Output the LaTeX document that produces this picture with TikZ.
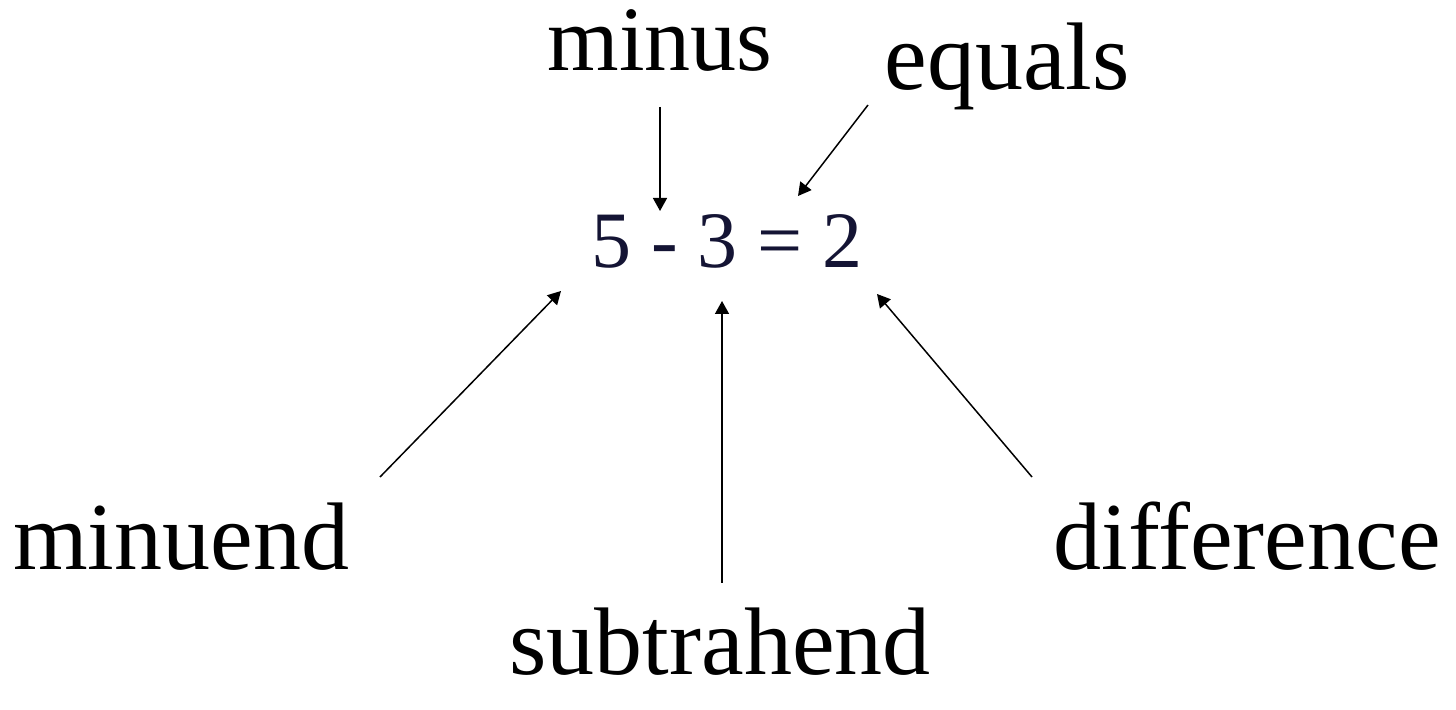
\documentclass[tikz,border=0pt]{standalone}
\usepackage{fontspec}
\setmainfont{Liberation Serif}
\usetikzlibrary{arrows.meta}
\definecolor{eqnavy}{RGB}{20,20,52}
\begin{document}
\begin{tikzpicture}[x=0.5pt,y=-0.5pt,
  lbl/.style={inner sep=0pt,font=\fontsize{48}{54}\selectfont,anchor=base},
  eqn/.style={inner sep=0pt,font=\fontsize{40}{46}\selectfont,text=eqnavy,anchor=base},
  arr/.style={line width=0.75pt,-{Triangle[length=6.5pt,width=7pt]}}]
\useasboundingbox (0,0) rectangle (1456,710);
\node[lbl,font=\fontsize{46}{52}\selectfont] (minus) at (660,71) {minus};
\node[lbl] (equals) at (1007,90) {equals};
\node[eqn] (eq) at (727,268) {5 - 3 = 2};
\node[lbl] (minuend) at (181,570) {minuend};
\node[lbl] (subtrahend) at (720,675) {subtrahend};
\node[lbl] (difference) at (1247,570) {difference};
\coordinate (a1s) at (660,107); \coordinate (a1e) at (660,211);
\coordinate (a2s) at (868,105); \coordinate (a2e) at (798,196);
\coordinate (a3s) at (380,477); \coordinate (a3e) at (561,291);
\coordinate (a4s) at (722,583); \coordinate (a4e) at (722,301);
\coordinate (a5s) at (1032,477); \coordinate (a5e) at (877,294);
\draw[arr] (a1s) -- (a1e);
\draw[arr] (a2s) -- (a2e);
\draw[arr] (a3s) -- (a3e);
\draw[arr] (a4s) -- (a4e);
\draw[arr] (a5s) -- (a5e);
\end{tikzpicture}
\end{document}
